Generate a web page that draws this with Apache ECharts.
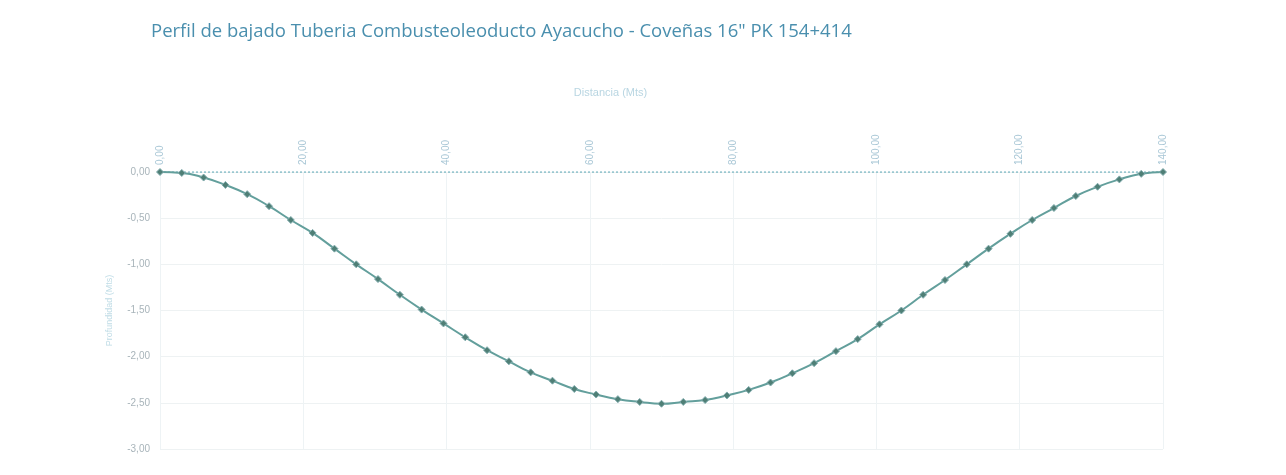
<!DOCTYPE html>
<html>
<head>
<meta charset="utf-8">
<script src="https://cdn.jsdelivr.net/npm/echarts@6/dist/echarts.min.js"></script>
<style>html,body{margin:0;padding:0;background:#fff}#c{width:1286px;height:475px}</style>
</head>
<body>
<div id="c"></div>
<script>
const titleText = 'Perfil de bajado Tuberia Combusteoleoducto Ayacucho - Coveñas 16" PK 154+414';
const xName = 'Distancia (Mts)';
const yName = 'Profundidad (Mts)';
const distances = [0, 3.04, 6.09, 9.13, 12.17, 15.22, 18.26, 21.30, 24.35, 27.39, 30.43, 33.48, 36.52, 39.57, 42.61, 45.65, 48.70, 51.74, 54.78, 57.83, 60.87, 63.91, 66.96, 70.00, 73.04, 76.09, 79.13, 82.17, 85.22, 88.26, 91.30, 94.35, 97.39, 100.43, 103.48, 106.52, 109.57, 112.61, 115.65, 118.70, 121.74, 124.78, 127.83, 130.87, 133.91, 136.96, 140.00];
const depths = [0, -0.01, -0.06, -0.14, -0.24, -0.37, -0.52, -0.66, -0.83, -1.00, -1.16, -1.33, -1.49, -1.64, -1.79, -1.93, -2.05, -2.17, -2.26, -2.35, -2.41, -2.46, -2.49, -2.51, -2.49, -2.47, -2.42, -2.36, -2.28, -2.18, -2.07, -1.94, -1.81, -1.65, -1.50, -1.33, -1.17, -1.00, -0.83, -0.67, -0.52, -0.39, -0.26, -0.16, -0.08, -0.02, 0];
const surface = [0, 0];
const surfaceX = [0, 140];

const chart = echarts.init(document.getElementById('c'));
chart.setOption({
  backgroundColor: '#ffffff',
  animation: false,
  title: {
    text: titleText, left: 146, top: 17,
    textStyle: { color: '#4a8fae', fontSize: 18.5, fontWeight: 'normal', fontFamily: 'Open Sans' }
  },
  grid: { left: 160, right: 123, top: 172, bottom: 26 },
  xAxis: {
    type: 'value', position: 'top', min: 0, max: 140, interval: 20,
    name: xName, nameLocation: 'middle', nameGap: 74,
    nameTextStyle: { color: '#b9d6e2', fontSize: 11, padding: [0, 102, 0, 0] },
    axisLine: { show: false },
    axisTick: { show: false },
    axisLabel: { rotate: 90, color: '#a9c7d6', fontSize: 10, margin: 7,
      formatter: v => v.toFixed(2).replace('.', ',') },
    splitLine: { show: true, lineStyle: { color: '#eef3f5', width: 1 } }
  },
  yAxis: {
    type: 'value', min: -3, max: 0, interval: 0.5,
    name: yName, nameLocation: 'middle', nameGap: 46, nameRotate: 90,
    nameTextStyle: { color: '#bfdce6', fontSize: 9 },
    axisLine: { show: true, lineStyle: { color: '#eef3f5' } },
    axisTick: { show: false },
    axisLabel: { color: '#a8b4ba', fontSize: 10, margin: 10,
      formatter: v => v.toFixed(2).replace('.', ',') },
    splitLine: { show: true, lineStyle: { color: '#eef2f3', width: 1 } }
  },
  series: [
    {
      type: 'line', data: surfaceX.map((x, i) => [x, surface[i]]),
      symbol: 'none',
      lineStyle: { color: '#7fb9c4', width: 1.5, type: [2, 2] }, z: 2
    },
    {
      type: 'line', data: distances.map((x, i) => [x, depths[i]]),
      smooth: true, symbol: 'diamond', symbolSize: 7, showSymbol: true,
      lineStyle: { color: '#639f9c', width: 2 },
      itemStyle: { color: '#4f7f76', borderColor: '#84aeb0', borderWidth: 1 }, z: 3
    }
  ]
});
</script>
</body>
</html>
